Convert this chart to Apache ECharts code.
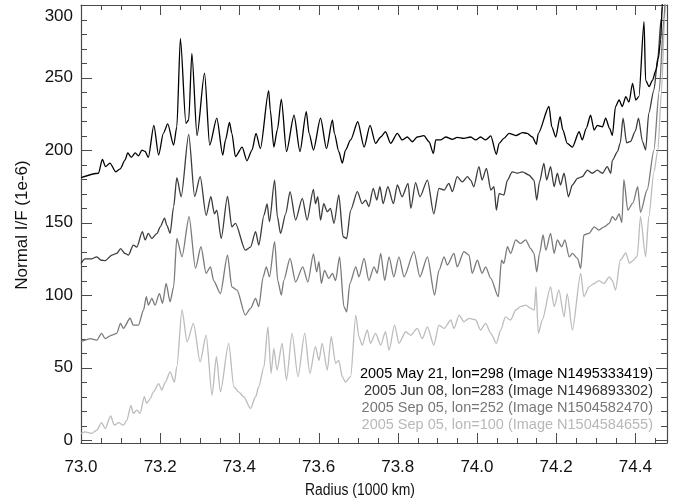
<!DOCTYPE html>
<html>
<head>
<meta charset="utf-8">
<script src="https://cdn.jsdelivr.net/npm/echarts@6/dist/echarts.min.js"></script>
<style>
  html, body { margin: 0; padding: 0; background: #ffffff; }
  #chart { width: 681px; height: 504px; }
</style>
</head>
<body>
<div id="chart"></div>
<script>
// Radial brightness profiles (normal I/F, units of 1e-6) against ring radius (1000 km)

const xMajorTicks = [73.0, 73.2, 73.4, 73.6, 73.8, 74.0, 74.2, 74.4];
const xMinorTicks = [73.05, 73.1, 73.15, 73.25, 73.3, 73.35, 73.45, 73.5, 73.55,
  73.65, 73.7, 73.75, 73.85, 73.9, 73.95, 74.05, 74.1, 74.15, 74.25, 74.3, 74.35, 74.45];
const yMajorTicks = [0, 50, 100, 150, 200, 250, 300];
const yMinorTicks = [10, 20, 30, 40, 60, 70, 80, 90, 110, 120, 130, 140, 160, 170, 180, 190,
  210, 220, 230, 240, 260, 270, 280, 290];

const profileNames = [
  '2005 May 21, lon=298 (Image N1495333419)',
  '2005 Jun 08, lon=283 (Image N1496893302)',
  '2005 Sep 05, lon=252 (Image N1504582470)',
  '2005 Sep 05, lon=100 (Image N1504584655)'
];

const may21Radius = [73.000, 73.044, 73.054, 73.062, 73.073, 73.088, 73.099, 73.111, 73.118, 73.127,
  73.137, 73.145, 73.154, 73.162, 73.170, 73.184, 73.196, 73.208, 73.219, 73.234,
  73.242, 73.251, 73.265, 73.272, 73.280, 73.293, 73.312, 73.325, 73.343, 73.358,
  73.365, 73.375, 73.381, 73.390, 73.407, 73.419, 73.432, 73.442, 73.453, 73.474,
  73.478, 73.487, 73.496, 73.506, 73.519, 73.538, 73.553, 73.569, 73.576, 73.587,
  73.605, 73.620, 73.635, 73.640, 73.651, 73.660, 73.668, 73.681, 73.699, 73.715,
  73.730, 73.744, 73.757, 73.769, 73.782, 73.799, 73.811, 73.824, 73.837, 73.849,
  73.866, 73.879, 73.890, 73.896, 73.908, 73.921, 73.938, 73.950, 73.967, 73.984,
  73.997, 74.009, 74.022, 74.035, 74.049, 74.056, 74.068, 74.081, 74.098, 74.115,
  74.127, 74.140, 74.150, 74.155, 74.182, 74.189, 74.199, 74.210, 74.217, 74.228,
  74.241, 74.258, 74.266, 74.276, 74.287, 74.296, 74.304, 74.317, 74.325, 74.335,
  74.342, 74.350, 74.359, 74.367, 74.376, 74.384, 74.393, 74.401, 74.409, 74.422,
  74.426, 74.435, 74.443, 74.452, 74.458, 74.464, 74.468, 74.474];
const may21Flux = [181, 184, 193.5, 188.5, 191, 185, 187, 193, 198, 195,
  198, 196, 200, 199, 195, 217, 196.5, 211.5, 218, 203.4,
  216, 277, 218.4, 220.7, 266.7, 210, 253, 203.4, 222, 196.5,
  207, 219, 211.5, 195.4, 202, 192.6, 200, 211.5, 201, 241,
  227.6, 202, 214, 235, 199, 224, 199, 226.4, 211.5, 200,
  222, 201, 220.7, 211.5, 199, 191, 200, 207, 219.5, 202,
  217, 204.6, 209, 212.6, 204.6, 211.5, 207, 209, 205.7, 209,
  210, 205.7, 197.7, 207, 207, 209, 207.4, 208.7, 208, 209,
  207, 209, 207, 209.7, 197, 204.6, 208, 211.5, 210, 212,
  211.5, 209, 204, 211.5, 230, 216, 209, 223, 213.8, 204.6,
  202, 212.6, 207, 215, 224, 213.8, 217, 216, 222, 215,
  210, 230, 234.5, 230, 236.8, 233, 246, 234.5, 236.8, 288.5,
  248, 243.7, 248, 255, 263, 276, 299, 330];

const jun08Radius = [73.000, 73.010, 73.027, 73.040, 73.051, 73.061, 73.078, 73.090, 73.100, 73.111,
  73.120, 73.132, 73.141, 73.155, 73.162, 73.170, 73.179, 73.192, 73.200, 73.211,
  73.217, 73.225, 73.234, 73.242, 73.253, 73.272, 73.287, 73.301, 73.316, 73.328,
  73.337, 73.343, 73.354, 73.370, 73.381, 73.390, 73.415, 73.428, 73.441, 73.449,
  73.462, 73.470, 73.476, 73.489, 73.496, 73.504, 73.517, 73.528, 73.542, 73.559,
  73.571, 73.587, 73.592, 73.598, 73.605, 73.613, 73.622, 73.630, 73.639, 73.651,
  73.662, 73.671, 73.681, 73.698, 73.710, 73.719, 73.727, 73.738, 73.747, 73.755,
  73.763, 73.775, 73.789, 73.799, 73.811, 73.826, 73.833, 73.845, 73.856, 73.875,
  73.891, 73.904, 73.917, 73.929, 73.938, 73.950, 73.963, 73.976, 73.984, 73.992,
  74.005, 74.013, 74.024, 74.035, 74.043, 74.049, 74.056, 74.068, 74.077, 74.089,
  74.102, 74.115, 74.131, 74.144, 74.151, 74.158, 74.169, 74.176, 74.186, 74.195,
  74.203, 74.211, 74.220, 74.231, 74.241, 74.254, 74.266, 74.279, 74.291, 74.304,
  74.317, 74.329, 74.338, 74.342, 74.355, 74.362, 74.369, 74.378, 74.388, 74.400,
  74.408, 74.418, 74.426, 74.434, 74.447, 74.457, 74.465, 74.472];
const jun08Flux = [121.8, 125, 125, 126.4, 124, 123.7, 127.6, 128.7, 132, 128.7,
  127.6, 134.5, 133, 143.7, 138, 142.5, 139, 142.5, 147, 153,
  148, 142.5, 161, 181, 167.8, 210.8, 168, 181.6, 155, 167.8,
  156, 158.6, 139, 168, 147, 149.4, 131, 133, 143.7, 134.5,
  155, 162.8, 150.6, 179.3, 154, 142.5, 156, 171.3, 151.7, 166.7,
  151.7, 172.9, 163, 167.8, 151.7, 163, 157.5, 159.8, 149.4, 169,
  140.2, 139, 158.6, 171.3, 163, 165.5, 161, 173.6, 165.5, 174.7,
  163, 174.7, 163, 175.9, 167.8, 177, 159.8, 177.5, 167.8, 179.3,
  156, 173.6, 172.4, 177, 171.3, 181.6, 178, 181.6, 179.3, 174.7,
  188.5, 179.3, 187.4, 172.4, 174.7, 158.6, 170, 169, 179.3, 185,
  184, 185, 182.8, 179.3, 165.5, 178, 190.8, 179.3, 188.5, 174.7,
  184, 175.9, 184, 167.8, 175.9, 180.5, 181.6, 186.2, 184, 186.2,
  184, 188.5, 184, 193, 198.9, 205, 222, 205, 206, 213,
  222, 206, 200, 225.5, 241.5, 264, 290, 325];

const sep05aRadius = [73.000, 73.010, 73.023, 73.040, 73.052, 73.061, 73.078, 73.090, 73.100, 73.107,
  73.124, 73.132, 73.145, 73.158, 73.165, 73.170, 73.179, 73.187, 73.198, 73.206,
  73.215, 73.225, 73.234, 73.242, 73.255, 73.273, 73.289, 73.303, 73.316, 73.327,
  73.335, 73.352, 73.370, 73.381, 73.394, 73.415, 73.428, 73.441, 73.449, 73.460,
  73.468, 73.476, 73.489, 73.497, 73.506, 73.512, 73.528, 73.542, 73.560, 73.573,
  73.587, 73.595, 73.601, 73.607, 73.615, 73.626, 73.635, 73.643, 73.653, 73.664,
  73.671, 73.679, 73.694, 73.702, 73.715, 73.727, 73.740, 73.748, 73.757, 73.767,
  73.778, 73.790, 73.803, 73.816, 73.841, 73.856, 73.875, 73.893, 73.904, 73.917,
  73.925, 73.942, 73.950, 73.967, 73.980, 73.988, 74.001, 74.013, 74.022, 74.035,
  74.054, 74.062, 74.068, 74.077, 74.085, 74.098, 74.110, 74.123, 74.136, 74.144,
  74.151, 74.158, 74.167, 74.174, 74.186, 74.195, 74.203, 74.214, 74.222, 74.233,
  74.241, 74.254, 74.262, 74.270, 74.283, 74.296, 74.308, 74.321, 74.334, 74.342,
  74.350, 74.359, 74.366, 74.371, 74.381, 74.394, 74.406, 74.413, 74.430, 74.447,
  74.460, 74.472, 74.478];
const sep05aFlux = [67.8, 69, 70, 69, 73.6, 70, 72.4, 73.6, 80.5, 77,
  84, 79.3, 79.3, 89.7, 98.9, 93, 97.7, 93, 101, 94.3,
  108, 95.4, 105.7, 139, 126.4, 154, 118.4, 133.3, 115, 119.5,
  110, 101, 127.6, 105.7, 103.4, 86.2, 90.8, 97.7, 92, 112.6,
  119.5, 112.6, 136.8, 110, 100, 110, 125.3, 109, 119.5, 109,
  128.3, 116, 123, 108, 117, 111.5, 115, 110, 126.4, 92,
  88.5, 108, 119.5, 112.6, 125.3, 110, 119.5, 115, 128.7, 110,
  126.4, 112.6, 126.4, 112.6, 130, 112.6, 126.4, 100, 117, 126.4,
  120.7, 128.7, 119.5, 130, 127.6, 115, 124, 115, 119.5, 111.5,
  98.9, 124, 121.8, 133.3, 128.7, 138, 135.6, 138, 132, 128.7,
  116, 128.7, 141.4, 131, 142.5, 128.7, 138, 133.3, 138, 126.4,
  128.7, 125.3, 118.4, 141.4, 142.5, 147, 144.8, 147, 149.4, 154,
  151.7, 156, 150, 179.5, 158.6, 163.6, 174.7, 157, 172.6, 200,
  240, 290, 320];

const sep05bRadius = [73.000, 73.010, 73.027, 73.040, 73.052, 73.061, 73.075, 73.084, 73.095, 73.107,
  73.116, 73.126, 73.132, 73.141, 73.149, 73.160, 73.166, 73.175, 73.183, 73.196,
  73.204, 73.213, 73.225, 73.236, 73.242, 73.255, 73.268, 73.284, 73.301, 73.316,
  73.331, 73.342, 73.352, 73.373, 73.386, 73.398, 73.411, 73.428, 73.441, 73.449,
  73.462, 73.472, 73.480, 73.487, 73.495, 73.508, 73.519, 73.533, 73.548, 73.565,
  73.578, 73.592, 73.601, 73.609, 73.622, 73.632, 73.643, 73.651, 73.660, 73.668,
  73.681, 73.694, 73.702, 73.710, 73.723, 73.731, 73.744, 73.757, 73.769, 73.778,
  73.792, 73.803, 73.820, 73.833, 73.849, 73.862, 73.875, 73.891, 73.904, 73.917,
  73.934, 73.942, 73.955, 73.967, 73.980, 73.997, 74.009, 74.022, 74.035, 74.049,
  74.060, 74.072, 74.085, 74.098, 74.110, 74.123, 74.136, 74.145, 74.149, 74.155,
  74.165, 74.186, 74.195, 74.207, 74.220, 74.228, 74.241, 74.262, 74.270, 74.283,
  74.296, 74.308, 74.321, 74.334, 74.342, 74.350, 74.362, 74.376, 74.385, 74.395,
  74.405, 74.413, 74.426, 74.434, 74.447, 74.457, 74.466, 74.474, 74.480];
const sep05bFlux = [4.6, 5.7, 4.6, 6.9, 12, 8, 16.6, 10.3, 12, 10.3,
  13.8, 24, 18.4, 20.7, 18.4, 29.9, 25.3, 28.7, 33.3, 39,
  34.5, 40, 47, 40, 50.6, 89.7, 67.8, 80.5, 54, 72.4,
  31, 57.5, 33.3, 66.7, 36.8, 33.3, 29.9, 21.8, 29.9, 36.8,
  50.6, 78, 46, 63.2, 48.3, 66.7, 41.4, 73.6, 43.7, 73.6,
  46, 64.4, 55, 66.7, 48.3, 71.3, 52.9, 55, 43.7, 40,
  43.7, 86.2, 71.3, 65.5, 75.9, 66.7, 73.6, 65.5, 74.7, 62,
  79.3, 66.7, 74.7, 72.4, 77, 70, 78, 65.5, 79.3, 77,
  82.8, 77, 86.2, 81.6, 83.9, 82.8, 75.9, 80.5, 73.6, 66.7,
  75.9, 85, 82.8, 89.7, 92, 93, 90.8, 89.7, 105.7, 73.6,
  82.8, 105.7, 92, 103.4, 85, 101, 75.9, 115, 98.9, 105.7,
  108, 110, 108, 112.6, 110, 103.4, 124, 129, 122, 124,
  127, 154, 126.4, 154, 185, 200, 240, 290, 330];

const profileColors = ['#000000', '#3c3c3c', '#7a7a7a', '#bcbcbc'];
const textColors = ['#000000', '#333333', '#777777', '#b8b8b8'];
const frameColor = '#4a4a4a';

function pairs(rs, vs) {
  return rs.map((r, i) => [r, vs[i]]);
}
</script>
<script>
(function () {
  const profiles = [
    pairs(may21Radius, may21Flux),
    pairs(jun08Radius, jun08Flux),
    pairs(sep05aRadius, sep05aFlux),
    pairs(sep05bRadius, sep05bFlux)
  ];

  const X_MIN = 73.0, X_MAX = 74.48;
  const Y_MIN = -2, Y_MAX = 300;          // frame runs slightly below zero
  const tickFont = { fontFamily: 'Liberation Sans', fontSize: 17, color: '#111111' };
  const frameLine = { show: true, onZero: false, lineStyle: { color: frameColor, width: 1.2 } };

  // Tick records: [radius, flux, length, side]; side 0 = bottom, 1 = top, 2 = left, 3 = right
  const tickRecords = [];
  xMajorTicks.forEach(v => { tickRecords.push([v, Y_MIN, 10, 0], [v, Y_MAX, 10, 1]); });
  xMinorTicks.forEach(v => { tickRecords.push([v, Y_MIN, 5, 0], [v, Y_MAX, 5, 1]); });
  yMajorTicks.forEach(v => { tickRecords.push([X_MIN, v, 11, 2], [X_MAX, v, 11, 3]); });
  yMinorTicks.forEach(v => { tickRecords.push([X_MIN, v, 6, 2], [X_MAX, v, 6, 3]); });

  const inward = [[0, -1], [0, 1], [1, 0], [-1, 0]];

  function renderTick(params, api) {
    const p = api.coord([api.value(0), api.value(1)]);
    const len = api.value(2);
    const dir = inward[api.value(3)];
    const vertical = dir[0] === 0;
    const x = vertical ? Math.round(p[0]) + 0.5 : p[0];
    const y = vertical ? p[1] : Math.round(p[1]) + 0.5;
    return {
      type: 'line',
      shape: { x1: x, y1: y, x2: x + dir[0] * len, y2: y + dir[1] * len },
      style: { stroke: frameColor, lineWidth: 1 }
    };
  }

  function xAxisDef(position, labels) {
    return {
      type: 'value', min: X_MIN, max: X_MAX, position: position,
      axisLine: frameLine,
      axisTick: { show: false },
      axisLabel: labels ? Object.assign({
        show: true, customValues: xMajorTicks, margin: 16,
        formatter: v => v.toFixed(1)
      }, tickFont) : { show: false },
      splitLine: { show: false }
    };
  }

  function yAxisDef(position, labels) {
    return {
      type: 'value', min: Y_MIN, max: Y_MAX, position: position,
      axisLine: frameLine,
      axisTick: { show: false },
      axisLabel: labels ? Object.assign({
        show: true, customValues: yMajorTicks, margin: 8,
        formatter: v => (v === Y_MAX ? '{top|' + v + '}' : String(v)),
        rich: { top: Object.assign({ padding: [22, 0, 0, 0] }, tickFont) }
      }, tickFont) : { show: false },
      splitLine: { show: false }
    };
  }

  const textGraphics = [
    {
      type: 'text', x: 360, y: 491, scaleX: 0.87,
      style: { text: 'Radius (1000 km)', fontFamily: 'Liberation Sans', fontSize: 16,
               fill: '#111111', align: 'center', verticalAlign: 'middle' }
    },
    {
      type: 'text', x: 22, y: 225, rotation: Math.PI / 2,
      style: { text: 'Normal I/F (1e-6)', fontFamily: 'Liberation Sans', fontSize: 17,
               fill: '#111111', align: 'center', verticalAlign: 'middle' }
    }
  ].concat(profileNames.map((name, i) => ({
    type: 'text', x: 653, y: 374 + i * 17,
    style: { text: name, fontFamily: 'Liberation Sans', fontSize: 14.5,
             fill: textColors[i], align: 'right', verticalAlign: 'middle' }
  })));

  const chart = echarts.init(document.getElementById('chart'), null, { renderer: 'canvas' });

  const profileSeries = profiles.map((data, i) => ({
    name: profileNames[i],
    type: 'line',
    xAxisIndex: 0,
    yAxisIndex: 0,
    data: data,
    showSymbol: false,
    smooth: 0.25,
    smoothMonotone: 'x',
    clip: true,
    z: 10 - i,
    lineStyle: { color: profileColors[i], width: 1.3 }
  }));

  const tickSeries = {
    name: 'frame ticks',
    type: 'custom',
    xAxisIndex: 0,
    yAxisIndex: 0,
    data: tickRecords,
    encode: { x: 0, y: 1 },
    renderItem: renderTick,
    clip: false,
    silent: true,
    z: 5
  };

  chart.setOption({
    animation: false,
    backgroundColor: '#ffffff',
    grid: { left: 81, right: 14, top: 5, bottom: 61 },
    xAxis: [xAxisDef('bottom', true), xAxisDef('top', false)],
    yAxis: [yAxisDef('left', true), yAxisDef('right', false)],
    series: profileSeries.concat([tickSeries]),
    graphic: textGraphics
  });
})();
</script>
</body>
</html>
